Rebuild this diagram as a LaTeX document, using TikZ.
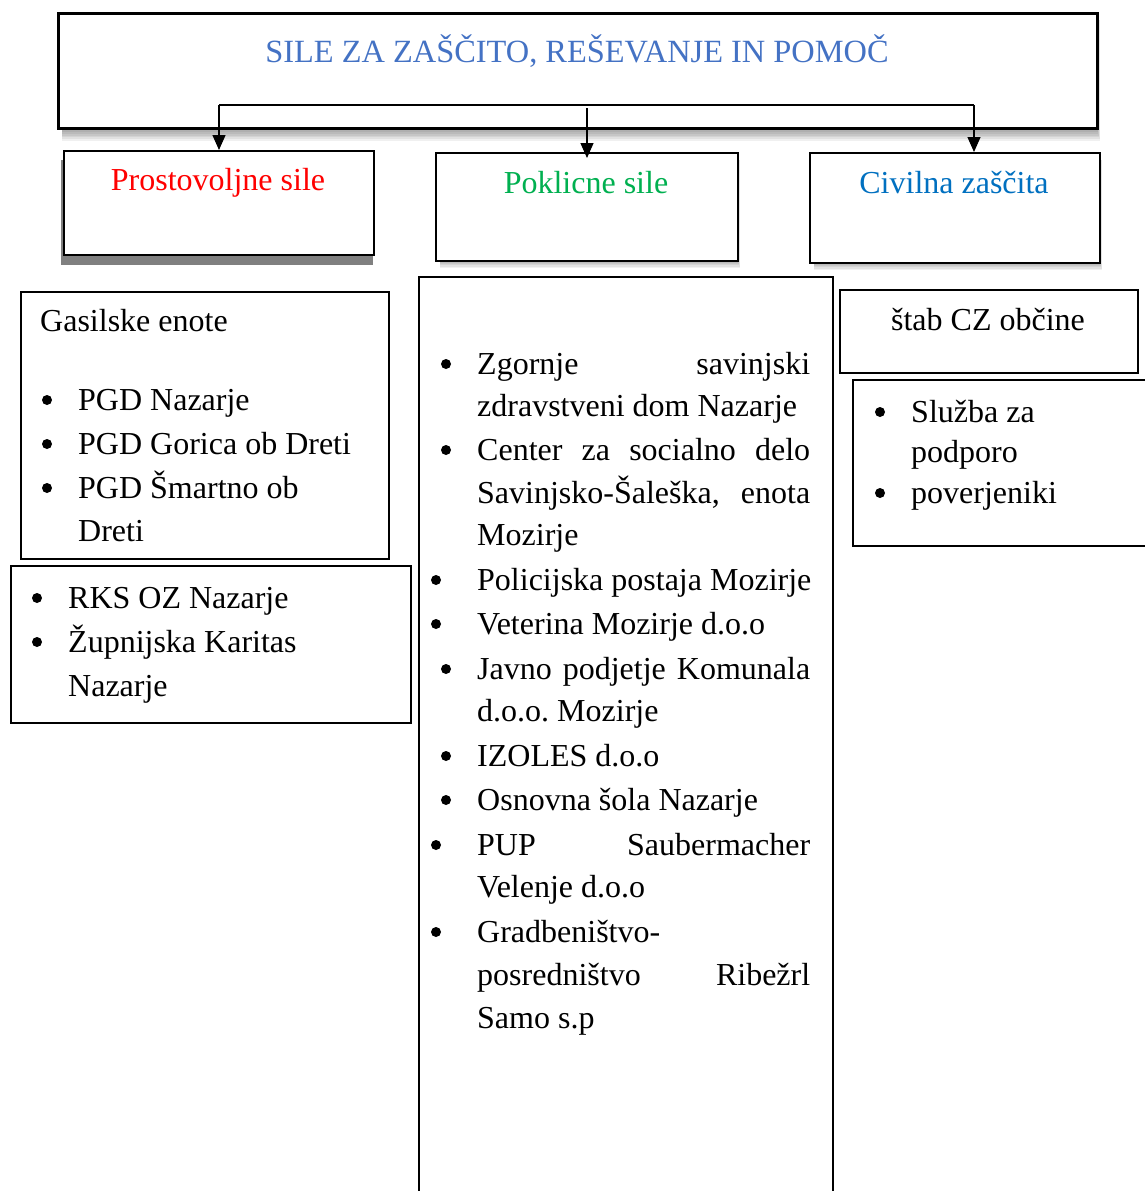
\documentclass[tikz,border=0pt]{standalone}
\usepackage{fontspec}
\setmainfont{Liberation Serif}
\usetikzlibrary{arrows.meta}
\definecolor{titleblue}{HTML}{4472C4}
\definecolor{volred}{HTML}{FF0000}
\definecolor{progreen}{HTML}{00B050}
\definecolor{civblue}{HTML}{0070C0}
\newcommand\bigfs{\fontsize{32}{44}\selectfont\frenchspacing}
\newcommand\titlefs{\fontsize{32.4}{44}\selectfont}
\newlength\jw \setlength\jw{333pt}
\newcommand\jline[1]{\makebox[\jw][s]{#1}}
\begin{document}
\begin{tikzpicture}[x=1pt,y=-1pt,
 frame/.style={draw, fill=white, inner sep=0pt, anchor=north west},
 head/.style={frame, line width=2pt},
 listbox/.style={frame, line width=1.6pt},
 txt/.style={font=\bigfs, inner sep=0pt, anchor=base west},
 ctxt/.style={font=\bigfs, inner sep=0pt, anchor=base},
 bul/.style={circle, fill=black, inner sep=0pt, minimum size=10pt},
 conn/.style={line width=1.3pt},
 arr/.style={conn, -{Triangle[width=13pt,length=15pt]}},
]
\useasboundingbox[fill=white] (0,0) rectangle (1144,1191);

% shadows
\foreach \d in {1,...,8} \fill[black,opacity=0.06] (62,20) rectangle (1096+\d*0.5,127+\d*1.7);
\fill[gray] (61,160) rectangle (373,265);
\foreach \d in {1,...,6} \fill[black,opacity=0.06] (440,160) rectangle (737+\d*0.5,260+\d*1.3);
\foreach \d in {1,...,6} \fill[black,opacity=0.06] (814,160) rectangle (1099+\d*0.5,262+\d*1.3);

% top box
\node[head, line width=3pt, minimum width=1039pt, minimum height=115pt] (top) at (57,12) {};
\node[ctxt, font=\titlefs, text=titleblue] (title) at (577,62) {SILE ZA ZAŠČITO, REŠEVANJE IN POMOČ};

% header boxes
\node[head, minimum width=310pt, minimum height=104pt] (pros) at (63,150) {};
\node[ctxt, text=volred] (prost) at (218,190) {Prostovoljne sile};
\node[head, minimum width=302pt, minimum height=108pt] (prof) at (435,152) {};
\node[ctxt, text=progreen] (proft) at (586,193) {Poklicne sile};
\node[head, minimum width=290pt, minimum height=110pt] (civ) at (809,152) {};
\node[ctxt, text=civblue] (civt) at (954,193) {Civilna zaščita};

% connectors
\coordinate (jl) at (219,105);
\coordinate (jr) at (974,105);
\coordinate (jm) at (587,108);
\draw[conn] (jl) -- (jr);
\draw[arr] (jl) -- (jl |- pros.north);
\draw[arr] (jm) -- ([yshift=-6pt]jm |- prof.north);
\draw[arr] (jr) -- (jr |- civ.north);

% Gasilske box
\node[listbox, minimum width=368pt, minimum height=267pt] (gas) at (20,291) {};
\node[txt] (gast) at (40,331) {Gasilske enote};
\node[bul] (gb1) at (47,400) {};
\node[txt] (g1) at (78,410) {PGD Nazarje};
\node[bul] (gb2) at (47,444) {};
\node[txt] (g2) at (78,454) {PGD Gorica ob Dreti};
\node[bul] (gb3) at (47,488) {};
\node[txt] (g3) at (78,498) {PGD Šmartno ob};
\node[txt] (g4) at (78,541) {Dreti};

% RKS box
\node[listbox, minimum width=400pt, minimum height=157pt] (rks) at (10,565) {};
\node[bul] (rb1) at (37,598) {};
\node[txt] (r1) at (68,608) {RKS OZ Nazarje};
\node[bul] (rb2) at (37,642) {};
\node[txt] (r2) at (68,652) {Župnijska Karitas};
\node[txt] (r3) at (68,696) {Nazarje};

% Poklicne list
\node[listbox, minimum width=414pt, minimum height=1000pt] (plist) at (418,276) {};
\node[bul] (pb1) at (446,364) {};
\node[txt] (p1) at (477,374) {\jline{Zgornje savinjski}};
\node[txt] (p2) at (477,416) {zdravstveni dom Nazarje};
\node[bul] (pb2) at (446,450) {};
\node[txt] (p3) at (477,460) {\jline{Center za socialno delo}};
\node[txt] (p4) at (477,503) {\jline{Savinjsko-Šaleška, enota}};
\node[txt] (p5) at (477,545) {Mozirje};
\node[bul] (pb3) at (436,580) {};
\node[txt] (p6) at (477,590) {Policijska postaja Mozirje};
\node[bul] (pb4) at (436,624) {};
\node[txt] (p7) at (477,634) {Veterina Mozirje d.o.o};
\node[bul] (pb5) at (446,669) {};
\node[txt] (p8) at (477,679) {\jline{Javno podjetje Komunala}};
\node[txt] (p9) at (477,721) {d.o.o. Mozirje};
\node[bul] (pb6) at (446,756) {};
\node[txt] (p10) at (477,766) {IZOLES d.o.o};
\node[bul] (pb7) at (446,800) {};
\node[txt] (p11) at (477,810) {Osnovna šola Nazarje};
\node[bul] (pb8) at (436,845) {};
\node[txt] (p12) at (477,855) {\jline{PUP Saubermacher}};
\node[txt] (p13) at (477,897) {Velenje d.o.o};
\node[bul] (pb9) at (436,932) {};
\node[txt] (p14) at (477,942) {Gradbeništvo-};
\node[txt] (p15) at (477,985) {\jline{posredništvo Ribežrl}};
\node[txt] (p16) at (477,1028) {Samo s.p};

% Civilna zascita boxes
\node[listbox, minimum width=298pt, minimum height=83pt] (stab) at (839,289) {};
\node[ctxt] (stabt) at (988,330) {štab CZ občine};
\node[listbox, minimum width=320pt, minimum height=166pt] (sluz) at (852,379) {};
\node[bul] (sb1) at (880,412) {};
\node[txt] (s1) at (911,422) {Služba za};
\node[txt] (s2) at (911,462) {podporo};
\node[bul] (sb2) at (880,493) {};
\node[txt] (s3) at (911,503) {poverjeniki};
\end{tikzpicture}
\end{document}
